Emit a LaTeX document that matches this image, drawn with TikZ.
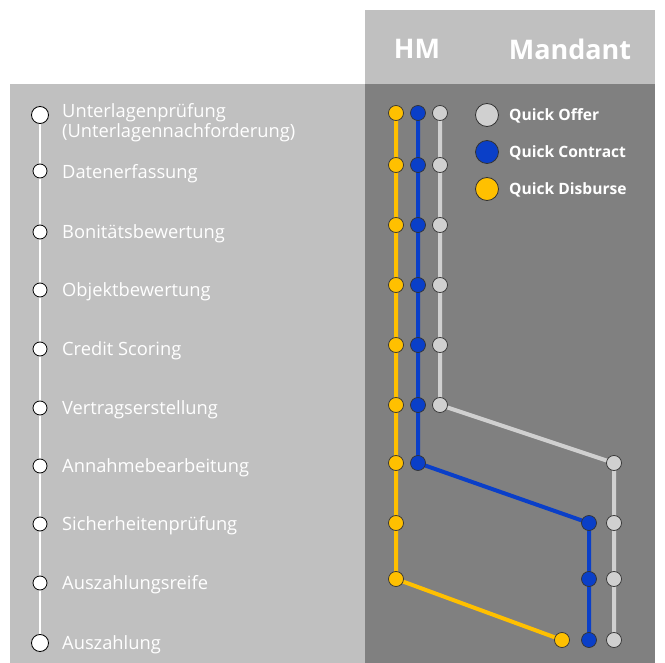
\documentclass[tikz,border=0pt]{standalone}
\usepackage{fontspec}
\setmainfont{Open Sans}
\usetikzlibrary{backgrounds}
\definecolor{panelL}{HTML}{C0C0C0}
\definecolor{panelD}{HTML}{808080}
\definecolor{qyel}{HTML}{FFC000}
\definecolor{qblue}{HTML}{0A3FC8}
\definecolor{qgray}{HTML}{D0D0D0}
\begin{document}
\begin{tikzpicture}[x=1pt,y=-1pt,
  lcirc/.style={circle,draw=black,line width=0.8pt,fill=white,inner sep=0pt,minimum size=14pt},
  lbig/.style={lcirc,minimum size=17pt},
  rnode/.style={circle,draw=black!80,line width=0.7pt,inner sep=0pt,minimum size=15pt},
  legnode/.style={circle,draw=black!80,line width=0.8pt,inner sep=0pt,minimum size=23pt},
  steplabel/.style={anchor=west,text=white,font=\fontsize{18.3}{20}\selectfont,inner sep=0pt,align=left},
  leglabel/.style={anchor=west,text=white,font=\fontsize{15.6}{17}\selectfont\bfseries,inner sep=0pt},
  headlabel/.style={text=white,font=\fontsize{27}{32}\selectfont\bfseries,inner sep=0pt},
  yline/.style={draw=qyel,line width=4pt},
  bline/.style={draw=qblue,line width=4pt},
  gline/.style={draw=qgray,line width=4pt},
  wline/.style={draw=white,line width=2.5pt}]
\useasboundingbox (0,0) rectangle (665,663);
\begin{scope}[on background layer]
\fill[white] (0,0) rectangle (665,663);
\fill[panelL] (10,84) rectangle (365,663);
\fill[panelD] (365,84) rectangle (655,663);
\fill[panelL] (365,10) rectangle (655,84);
\end{scope}
% header
\node[headlabel] (hm) at (417,49) {HM};
\node[headlabel] (mandant) at (570,49) {Mandant};
% left steps
\node[lbig] (L1) at (40,115) {};
\node[lcirc] (L2) at (40,171) {};
\node[lcirc] (L3) at (40,232) {};
\node[lcirc] (L4) at (40,290) {};
\node[lcirc] (L5) at (40,349) {};
\node[lcirc] (L6) at (40,408) {};
\node[lcirc] (L7) at (40,466) {};
\node[lcirc] (L8) at (40,524) {};
\node[lcirc] (L9) at (40,583) {};
\node[lbig] (L10) at (40,643) {};
\node[steplabel,anchor=north west] (T1) at (62,103) {Unterlagenprüfung\\(Unterlagennachforderung)};
\node[steplabel] (T2) at (62,174) {Datenerfassung};
\node[steplabel] (T3) at (62,234) {Bonitätsbewertung};
\node[steplabel] (T4) at (62,292) {Objektbewertung};
\node[steplabel] (T5) at (62,351) {Credit Scoring};
\node[steplabel] (T6) at (62,410) {Vertragserstellung};
\node[steplabel] (T7) at (62,468) {Annahmebearbeitung};
\node[steplabel] (T8) at (62,526) {Sicherheitenprüfung};
\node[steplabel] (T9) at (62,585) {Auszahlungsreife};
\node[steplabel] (T10) at (62,645) {Auszahlung};
% right nodes
\foreach \i/\yy in {1/113,2/165,3/225,4/285,5/345,6/405,7/463,8/523,9/579}
  \node[rnode,fill=qyel] (y\i) at (396,\yy) {};
\node[rnode,fill=qyel] (y10) at (562,640) {};
\foreach \i/\yy in {1/113,2/165,3/225,4/285,5/345,6/405,7/463}
  \node[rnode,fill=qblue] (b\i) at (418,\yy) {};
\foreach \i/\yy in {8/523,9/579,10/640}
  \node[rnode,fill=qblue] (b\i) at (589,\yy) {};
\foreach \i/\yy in {1/113,2/165,3/225,4/285,5/345,6/405}
  \node[rnode,fill=qgray] (g\i) at (440,\yy) {};
\foreach \i/\yy in {7/463,8/523,9/579,10/640}
  \node[rnode,fill=qgray] (g\i) at (614,\yy) {};
% legend
\node[legnode,fill=qgray] (lg1) at (487,115) {};
\node[legnode,fill=qblue] (lg2) at (487,152) {};
\node[legnode,fill=qyel] (lg3) at (487,189) {};
\node[leglabel] (lt1) at (509,116) {Quick Offer};
\node[leglabel] (lt2) at (509,153) {Quick Contract};
\node[leglabel] (lt3) at (509,190) {Quick Disburse};
% connectors
\begin{scope}[on background layer]
\draw[wline] (L1.center) -- (L10.center);
\draw[yline] (y1.center) -- (y9.center) -- (y10.center);
\draw[bline] (b1.center) -- (b7.center) -- (b8.center) -- (b10.center);
\draw[gline] (g1.center) -- (g6.center) -- (g7.center) -- (g10.center);
\end{scope}
\end{tikzpicture}
\end{document}
